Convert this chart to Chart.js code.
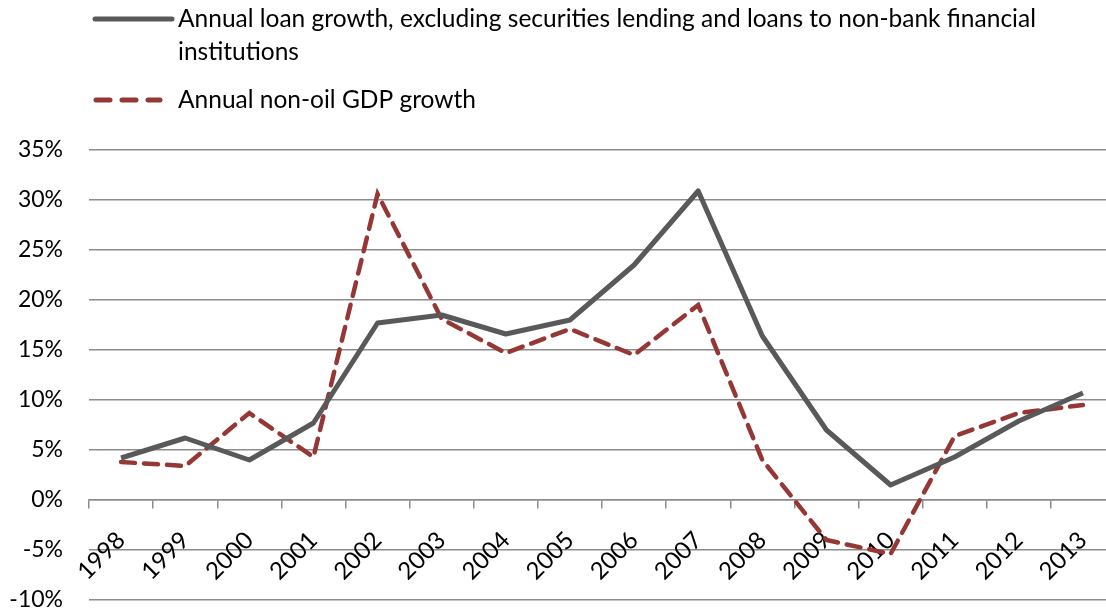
<!DOCTYPE html>
<html>
<head>
<meta charset="utf-8">
<script src="https://cdn.jsdelivr.net/npm/chart.js@4.4.1/dist/chart.umd.min.js"></script>
<style>
    html, body { margin: 0; padding: 0; overflow: hidden; background: #fff; }
    #wrap { width: 1118px; height: 610px; position: relative; }
</style>
</head>
<body>
<div id="wrap"><canvas id="chart"></canvas></div>
<script>
// Data (percent)
const years = ['1998', '1999', '2000', '2001', '2002', '2003', '2004', '2005',
               '2006', '2007', '2008', '2009', '2010', '2011', '2012', '2013'];
const loanGrowth = [4.2, 6.2, 4.0, 7.7, 17.7, 18.5, 16.6, 18.0,
                    23.5, 30.9, 16.4, 7.0, 1.5, 4.3, 7.9, 10.7];
const gdpGrowth = [3.8, 3.4, 8.7, 4.3, 30.6, 18.1, 14.7, 17.1,
                   14.5, 19.5, 4.0, -4.0, -5.4, 6.4, 8.7, 9.5];
const loanLabel = ['Annual loan growth, excluding securities lending and loans to non-bank financial',
                   'institutions'];
const gdpLabel = 'Annual non-oil GDP growth';

const loanColor = '#595959';
const gdpColor = '#953735';
const gridColor = '#8c8c8c';
const fontFamily = 'Lato, "Open Sans", sans-serif';

// Legend drawn above the plot, like the original
const topLegend = {
    id: 'topLegend',
    afterDraw(chart) {
        const ctx = chart.ctx;
        ctx.save();
        ctx.font = '24.5px ' + fontFamily;
        ctx.fillStyle = '#000';
        ctx.textBaseline = 'middle';
        ctx.lineCap = 'round';

        ctx.strokeStyle = loanColor;
        ctx.lineWidth = 5;
        ctx.beginPath();
        ctx.moveTo(95, 19);
        ctx.lineTo(172, 19);
        ctx.stroke();
        ctx.fillText(loanLabel[0], 178, 19);
        ctx.fillText(loanLabel[1], 178, 52);

        ctx.strokeStyle = gdpColor;
        ctx.setLineDash([14, 12]);
        ctx.beginPath();
        ctx.moveTo(96, 100);
        ctx.lineTo(160, 100);
        ctx.stroke();
        ctx.setLineDash([]);
        ctx.fillText(gdpLabel, 178, 100);
        ctx.restore();
    }
};

new Chart(document.getElementById('chart'), {
    type: 'line',
    data: {
        labels: years,
        datasets: [
            {
                label: loanLabel.join(' '),
                data: loanGrowth,
                borderColor: loanColor,
                borderWidth: 5,
                pointRadius: 0,
                tension: 0,
                borderJoinStyle: 'round'
            },
            {
                label: gdpLabel,
                data: gdpGrowth,
                borderColor: gdpColor,
                borderWidth: 4.5,
                borderDash: [14, 9],
                borderCapStyle: 'round',
                pointRadius: 0,
                tension: 0
            }
        ]
    },
    options: {
        responsive: true,
        maintainAspectRatio: false,
        animation: false,
        layout: { padding: { top: 150, bottom: 10, left: 0, right: 3 } },
        plugins: {
            legend: { display: false },
            tooltip: { enabled: false }
        },
        scales: {
            x: {
                type: 'category',
                offset: true,
                position: { y: 0 },
                grid: {
                    offset: true,
                    drawOnChartArea: false,
                    color: gridColor,
                    lineWidth: 1.5,
                    tickLength: 8
                },
                border: { color: gridColor, width: 1.5 },
                ticks: {
                    minRotation: 45,
                    maxRotation: 45,
                    autoSkip: false,
                    padding: 18,
                    color: '#000',
                    font: { family: fontFamily, size: 24 }
                },
                afterFit(scale) {
                    scale.paddingLeft = 0;
                    scale.paddingRight = 0;
                }
            },
            y: {
                min: -10,
                max: 35,
                ticks: {
                    stepSize: 5,
                    padding: 26,
                    color: '#000',
                    font: { family: fontFamily, size: 23 },
                    callback: v => v + '%'
                },
                grid: {
                    color: gridColor,
                    lineWidth: 1.5,
                    drawTicks: false
                },
                border: { display: false },
                afterFit(scale) {
                    scale.width = 89;
                    scale.paddingTop = 0;
                    scale.paddingBottom = 0;
                }
            }
        }
    },
    plugins: [topLegend]
});
</script>
</body>
</html>
